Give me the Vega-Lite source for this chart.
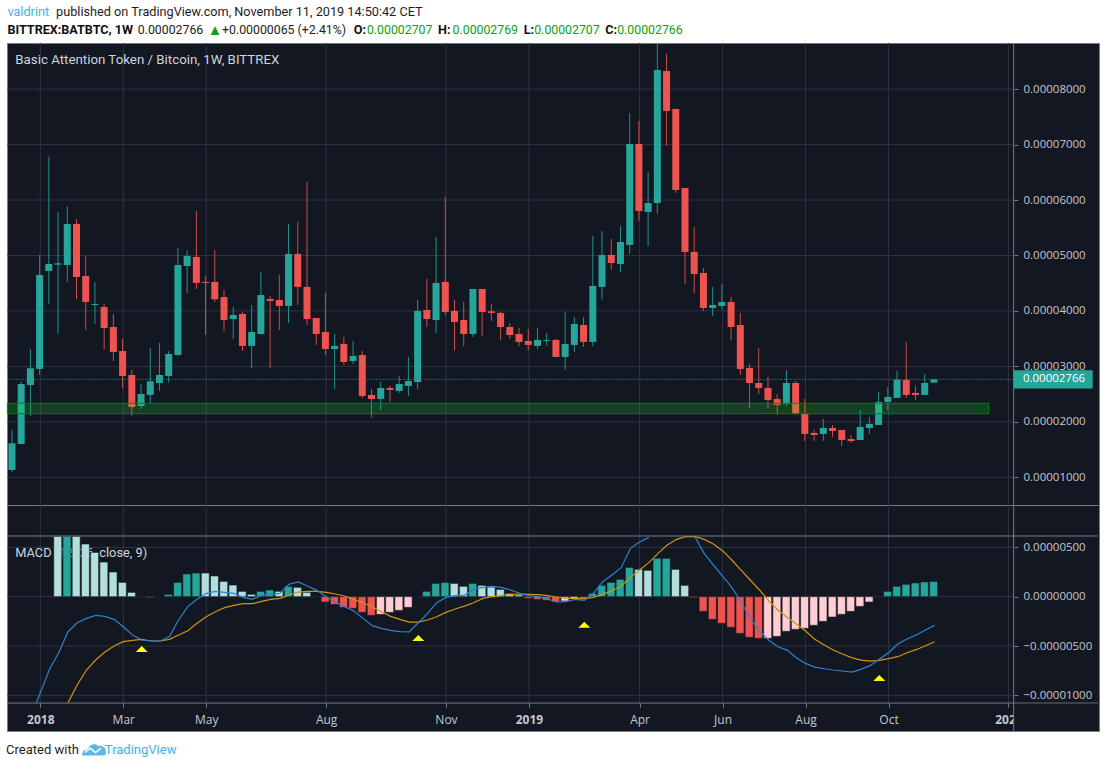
{
  "$schema": "https://vega.github.io/schema/vega-lite/v6.json",
  "background": "#ffffff",
  "padding": {"left": 6, "right": 7, "top": 0, "bottom": 0},
  "autosize": {"type": "pad"},
  "spacing": 0,
  "bounds": "flush",
  "resolve": {"scale": {"color": "independent"}},
  "config": {
    "view": {"fill": "#131722", "stroke": "#787b86"},
    "text": {"font": "Roboto", "align": "left", "baseline": "middle"},
    "axis": {"labelFont": "Open Sans", "labelColor": "#c5c8d0", "tickColor": "#787b86", "grid": false, "domain": false, "title": null, "labelOverlap": false, "labelFlush": false, "labelBound": false, "zindex": 0}
  },
  "datasets": {
    "headerTop": [
      {"d": "2017-12-07", "line": "a", "text": "valdrint", "kind": "link"},
      {"d": "2018-01-13", "line": "a", "text": "published on TradingView.com, November 11, 2019 14:50:42 CET", "kind": "plain"}
    ],
    "header": [
      {"d": "2018-03-16", "line": "b", "text": "0.00002766", "kind": "plain"},
      {"d": "2018-05-19", "line": "b", "text": "+0.00000065 (+2.41%)", "kind": "plain"},
      {"d": "2018-09-06", "line": "b", "text": "0.00002707", "kind": "up"},
      {"d": "2018-11-10", "line": "b", "text": "0.00002769", "kind": "up"},
      {"d": "2019-01-11", "line": "b", "text": "0.00002707", "kind": "up"},
      {"d": "2019-03-15", "line": "b", "text": "0.00002766", "kind": "up"}
    ],
    "headerBold": [
      {"d": "2017-12-07", "line": "b", "text": "BITTREX:BATBTC, 1W"},
      {"d": "2018-08-27", "line": "b", "text": "O:"},
      {"d": "2018-10-30", "line": "b", "text": "H:"},
      {"d": "2019-01-03", "line": "b", "text": "L:"},
      {"d": "2019-03-06", "line": "b", "text": "C:"}
    ],
    "priceGrid": [
      {"d": "2017-12-07", "d2": "2020-01-10", "v": 1e-5},
      {"d": "2017-12-07", "d2": "2020-01-10", "v": 2e-5},
      {"d": "2017-12-07", "d2": "2020-01-10", "v": 3e-5},
      {"d": "2017-12-07", "d2": "2020-01-10", "v": 4e-5},
      {"d": "2017-12-07", "d2": "2020-01-10", "v": 5e-5},
      {"d": "2017-12-07", "d2": "2020-01-10", "v": 6e-5},
      {"d": "2017-12-07", "d2": "2020-01-10", "v": 7e-5},
      {"d": "2017-12-07", "d2": "2020-01-10", "v": 8e-5}
    ],
    "timeGridTop": [
      {"d": "2018-01-01", "v": 8.832e-5, "v2": 0.5005e-5},
      {"d": "2018-03-05", "v": 8.832e-5, "v2": 0.5005e-5},
      {"d": "2018-05-07", "v": 8.832e-5, "v2": 0.5005e-5},
      {"d": "2018-08-06", "v": 8.832e-5, "v2": 0.5005e-5},
      {"d": "2018-11-05", "v": 8.832e-5, "v2": 0.5005e-5},
      {"d": "2019-01-07", "v": 8.832e-5, "v2": 0.5005e-5},
      {"d": "2019-04-01", "v": 8.832e-5, "v2": 0.5005e-5},
      {"d": "2019-06-03", "v": 8.832e-5, "v2": 0.5005e-5},
      {"d": "2019-08-05", "v": 8.832e-5, "v2": 0.5005e-5},
      {"d": "2019-10-07", "v": 8.832e-5, "v2": 0.5005e-5},
      {"d": "2020-01-06", "v": 8.832e-5, "v2": 0.5005e-5}
    ],
    "timeGridBottom": [
      {"d": "2018-01-01", "v": 9.29e-6, "v2": -10.78e-6},
      {"d": "2018-03-05", "v": 9.29e-6, "v2": -10.78e-6},
      {"d": "2018-05-07", "v": 9.29e-6, "v2": -10.78e-6},
      {"d": "2018-08-06", "v": 9.29e-6, "v2": -10.78e-6},
      {"d": "2018-11-05", "v": 9.29e-6, "v2": -10.78e-6},
      {"d": "2019-01-07", "v": 9.29e-6, "v2": -10.78e-6},
      {"d": "2019-04-01", "v": 9.29e-6, "v2": -10.78e-6},
      {"d": "2019-06-03", "v": 9.29e-6, "v2": -10.78e-6},
      {"d": "2019-08-05", "v": 9.29e-6, "v2": -10.78e-6},
      {"d": "2019-10-07", "v": 9.29e-6, "v2": -10.78e-6},
      {"d": "2020-01-06", "v": 9.29e-6, "v2": -10.78e-6}
    ],
    "candles": [
      {"d":"2017-12-11","o":1.132e-5,"h":1.854e-5,"l":1.096e-5,"c":1.613e-5},
      {"d":"2017-12-18","o":1.601e-5,"h":2.725e-5,"l":1.601e-5,"c":2.683e-5},
      {"d":"2017-12-25","o":2.665e-5,"h":3.314e-5,"l":2.106e-5,"c":2.966e-5},
      {"d":"2018-01-01","o":2.954e-5,"h":5.010e-5,"l":2.846e-5,"c":4.649e-5},
      {"d":"2018-01-08","o":4.721e-5,"h":6.783e-5,"l":4.126e-5,"c":4.847e-5},
      {"d":"2018-01-15","o":4.835e-5,"h":5.785e-5,"l":3.585e-5,"c":4.859e-5},
      {"d":"2018-01-22","o":4.829e-5,"h":5.893e-5,"l":4.523e-5,"c":5.569e-5},
      {"d":"2018-01-29","o":5.569e-5,"h":5.659e-5,"l":4.210e-5,"c":4.613e-5},
      {"d":"2018-02-05","o":4.631e-5,"h":4.992e-5,"l":3.657e-5,"c":4.162e-5},
      {"d":"2018-02-12","o":4.108e-5,"h":4.523e-5,"l":3.765e-5,"c":4.126e-5},
      {"d":"2018-02-19","o":4.072e-5,"h":4.126e-5,"l":3.308e-5,"c":3.693e-5},
      {"d":"2018-02-26","o":3.711e-5,"h":3.946e-5,"l":3.098e-5,"c":3.260e-5},
      {"d":"2018-03-05","o":3.278e-5,"h":3.495e-5,"l":2.605e-5,"c":2.828e-5},
      {"d":"2018-03-12","o":2.846e-5,"h":2.936e-5,"l":2.106e-5,"c":2.268e-5},
      {"d":"2018-03-19","o":2.286e-5,"h":2.683e-5,"l":2.232e-5,"c":2.503e-5},
      {"d":"2018-03-26","o":2.485e-5,"h":3.332e-5,"l":2.335e-5,"c":2.731e-5},
      {"d":"2018-04-02","o":2.701e-5,"h":3.423e-5,"l":2.557e-5,"c":2.846e-5},
      {"d":"2018-04-09","o":2.828e-5,"h":3.278e-5,"l":2.707e-5,"c":3.224e-5},
      {"d":"2018-04-16","o":3.206e-5,"h":5.136e-5,"l":3.188e-5,"c":4.829e-5},
      {"d":"2018-04-23","o":4.811e-5,"h":5.100e-5,"l":4.324e-5,"c":4.992e-5},
      {"d":"2018-04-30","o":4.974e-5,"h":5.803e-5,"l":4.396e-5,"c":4.505e-5},
      {"d":"2018-05-07","o":4.523e-5,"h":4.631e-5,"l":3.567e-5,"c":4.505e-5},
      {"d":"2018-05-14","o":4.523e-5,"h":5.100e-5,"l":4.162e-5,"c":4.210e-5},
      {"d":"2018-05-21","o":4.252e-5,"h":4.378e-5,"l":3.639e-5,"c":3.837e-5},
      {"d":"2018-05-28","o":3.855e-5,"h":4.072e-5,"l":3.495e-5,"c":3.928e-5},
      {"d":"2018-06-04","o":3.946e-5,"h":3.982e-5,"l":3.278e-5,"c":3.369e-5},
      {"d":"2018-06-11","o":3.369e-5,"h":4.108e-5,"l":2.966e-5,"c":3.621e-5},
      {"d":"2018-06-18","o":3.585e-5,"h":4.703e-5,"l":3.585e-5,"c":4.288e-5},
      {"d":"2018-06-25","o":4.216e-5,"h":4.270e-5,"l":2.972e-5,"c":4.180e-5},
      {"d":"2018-07-02","o":4.198e-5,"h":4.649e-5,"l":3.657e-5,"c":4.090e-5},
      {"d":"2018-07-09","o":4.090e-5,"h":5.569e-5,"l":3.783e-5,"c":5.028e-5},
      {"d":"2018-07-16","o":5.028e-5,"h":5.605e-5,"l":4.108e-5,"c":4.433e-5},
      {"d":"2018-07-23","o":4.433e-5,"h":6.326e-5,"l":3.747e-5,"c":3.855e-5},
      {"d":"2018-07-30","o":3.873e-5,"h":3.873e-5,"l":3.387e-5,"c":3.585e-5},
      {"d":"2018-08-06","o":3.621e-5,"h":4.324e-5,"l":3.206e-5,"c":3.314e-5},
      {"d":"2018-08-13","o":3.314e-5,"h":3.585e-5,"l":2.593e-5,"c":3.369e-5},
      {"d":"2018-08-20","o":3.405e-5,"h":3.531e-5,"l":3.026e-5,"c":3.080e-5},
      {"d":"2018-08-27","o":3.098e-5,"h":3.459e-5,"l":3.044e-5,"c":3.188e-5},
      {"d":"2018-09-03","o":3.206e-5,"h":3.278e-5,"l":2.425e-5,"c":2.467e-5},
      {"d":"2018-09-10","o":2.485e-5,"h":2.593e-5,"l":2.082e-5,"c":2.413e-5},
      {"d":"2018-09-17","o":2.413e-5,"h":2.719e-5,"l":2.214e-5,"c":2.611e-5},
      {"d":"2018-09-24","o":2.611e-5,"h":2.647e-5,"l":2.359e-5,"c":2.575e-5},
      {"d":"2018-10-01","o":2.557e-5,"h":2.828e-5,"l":2.521e-5,"c":2.683e-5},
      {"d":"2018-10-08","o":2.647e-5,"h":3.170e-5,"l":2.467e-5,"c":2.737e-5},
      {"d":"2018-10-15","o":2.719e-5,"h":4.198e-5,"l":2.593e-5,"c":4.000e-5},
      {"d":"2018-10-22","o":4.018e-5,"h":4.577e-5,"l":3.711e-5,"c":3.855e-5},
      {"d":"2018-10-29","o":3.837e-5,"h":5.334e-5,"l":3.603e-5,"c":4.505e-5},
      {"d":"2018-11-05","o":4.523e-5,"h":6.056e-5,"l":3.928e-5,"c":3.982e-5},
      {"d":"2018-11-12","o":4.000e-5,"h":4.198e-5,"l":3.290e-5,"c":3.801e-5},
      {"d":"2018-11-19","o":3.837e-5,"h":4.162e-5,"l":3.369e-5,"c":3.585e-5},
      {"d":"2018-11-26","o":3.585e-5,"h":4.396e-5,"l":3.531e-5,"c":4.396e-5},
      {"d":"2018-12-03","o":4.396e-5,"h":4.396e-5,"l":3.549e-5,"c":3.982e-5},
      {"d":"2018-12-10","o":3.994e-5,"h":4.126e-5,"l":3.819e-5,"c":3.964e-5},
      {"d":"2018-12-17","o":3.964e-5,"h":3.982e-5,"l":3.471e-5,"c":3.711e-5},
      {"d":"2018-12-24","o":3.711e-5,"h":3.783e-5,"l":3.495e-5,"c":3.567e-5},
      {"d":"2018-12-31","o":3.585e-5,"h":3.693e-5,"l":3.369e-5,"c":3.441e-5},
      {"d":"2019-01-07","o":3.459e-5,"h":3.675e-5,"l":3.296e-5,"c":3.387e-5},
      {"d":"2019-01-14","o":3.369e-5,"h":3.693e-5,"l":3.314e-5,"c":3.477e-5},
      {"d":"2019-01-21","o":3.459e-5,"h":3.603e-5,"l":3.369e-5,"c":3.477e-5},
      {"d":"2019-01-28","o":3.477e-5,"h":3.495e-5,"l":3.170e-5,"c":3.170e-5},
      {"d":"2019-02-04","o":3.170e-5,"h":3.982e-5,"l":2.936e-5,"c":3.405e-5},
      {"d":"2019-02-11","o":3.387e-5,"h":3.892e-5,"l":3.260e-5,"c":3.765e-5},
      {"d":"2019-02-18","o":3.747e-5,"h":3.892e-5,"l":3.351e-5,"c":3.441e-5},
      {"d":"2019-02-25","o":3.441e-5,"h":5.352e-5,"l":3.369e-5,"c":4.451e-5},
      {"d":"2019-03-04","o":4.433e-5,"h":5.442e-5,"l":4.210e-5,"c":5.010e-5},
      {"d":"2019-03-11","o":5.010e-5,"h":5.298e-5,"l":4.739e-5,"c":4.865e-5},
      {"d":"2019-03-18","o":4.847e-5,"h":5.533e-5,"l":4.703e-5,"c":5.244e-5},
      {"d":"2019-03-25","o":5.190e-5,"h":7.570e-5,"l":5.028e-5,"c":7.011e-5},
      {"d":"2019-04-01","o":7.011e-5,"h":7.426e-5,"l":5.623e-5,"c":5.803e-5},
      {"d":"2019-04-08","o":5.785e-5,"h":6.506e-5,"l":5.172e-5,"c":5.947e-5},
      {"d":"2019-04-15","o":5.947e-5,"h":8.83e-5,"l":5.749e-5,"c":8.346e-5},
      {"d":"2019-04-22","o":8.328e-5,"h":8.635e-5,"l":6.975e-5,"c":7.607e-5},
      {"d":"2019-04-29","o":7.643e-5,"h":7.643e-5,"l":6.134e-5,"c":6.182e-5},
      {"d":"2019-05-06","o":6.218e-5,"h":6.218e-5,"l":4.487e-5,"c":5.064e-5},
      {"d":"2019-05-13","o":5.064e-5,"h":5.515e-5,"l":4.324e-5,"c":4.667e-5},
      {"d":"2019-05-20","o":4.685e-5,"h":4.775e-5,"l":4.000e-5,"c":4.054e-5},
      {"d":"2019-05-27","o":4.054e-5,"h":4.433e-5,"l":3.910e-5,"c":4.108e-5},
      {"d":"2019-06-03","o":4.090e-5,"h":4.487e-5,"l":4.036e-5,"c":4.162e-5},
      {"d":"2019-06-10","o":4.162e-5,"h":4.252e-5,"l":3.477e-5,"c":3.711e-5},
      {"d":"2019-06-17","o":3.747e-5,"h":3.964e-5,"l":2.846e-5,"c":2.954e-5},
      {"d":"2019-06-24","o":2.972e-5,"h":3.044e-5,"l":2.250e-5,"c":2.701e-5},
      {"d":"2019-07-01","o":2.701e-5,"h":3.332e-5,"l":2.503e-5,"c":2.611e-5},
      {"d":"2019-07-08","o":2.611e-5,"h":2.809e-5,"l":2.232e-5,"c":2.395e-5},
      {"d":"2019-07-15","o":2.413e-5,"h":2.503e-5,"l":2.124e-5,"c":2.305e-5},
      {"d":"2019-07-22","o":2.323e-5,"h":2.936e-5,"l":2.286e-5,"c":2.701e-5},
      {"d":"2019-07-29","o":2.701e-5,"h":2.737e-5,"l":2.124e-5,"c":2.142e-5},
      {"d":"2019-08-05","o":2.142e-5,"h":2.413e-5,"l":1.655e-5,"c":1.782e-5},
      {"d":"2019-08-12","o":1.800e-5,"h":1.854e-5,"l":1.655e-5,"c":1.763e-5},
      {"d":"2019-08-19","o":1.782e-5,"h":2.052e-5,"l":1.655e-5,"c":1.890e-5},
      {"d":"2019-08-26","o":1.890e-5,"h":1.944e-5,"l":1.727e-5,"c":1.836e-5},
      {"d":"2019-09-02","o":1.854e-5,"h":1.854e-5,"l":1.565e-5,"c":1.673e-5},
      {"d":"2019-09-09","o":1.691e-5,"h":1.763e-5,"l":1.619e-5,"c":1.655e-5},
      {"d":"2019-09-16","o":1.673e-5,"h":2.214e-5,"l":1.673e-5,"c":1.908e-5},
      {"d":"2019-09-23","o":1.890e-5,"h":2.088e-5,"l":1.782e-5,"c":1.962e-5},
      {"d":"2019-09-30","o":1.944e-5,"h":2.539e-5,"l":1.944e-5,"c":2.359e-5},
      {"d":"2019-10-07","o":2.359e-5,"h":2.629e-5,"l":2.214e-5,"c":2.449e-5},
      {"d":"2019-10-14","o":2.431e-5,"h":2.918e-5,"l":2.431e-5,"c":2.761e-5},
      {"d":"2019-10-21","o":2.755e-5,"h":3.441e-5,"l":2.431e-5,"c":2.485e-5},
      {"d":"2019-10-28","o":2.521e-5,"h":2.647e-5,"l":2.395e-5,"c":2.485e-5},
      {"d":"2019-11-04","o":2.485e-5,"h":2.864e-5,"l":2.485e-5,"c":2.701e-5},
      {"d":"2019-11-11","o":2.707e-5,"h":2.769e-5,"l":2.707e-5,"c":2.766e-5}
    ],
    "hist": [
      {"d":"2018-01-15","v":6.1e-6,"t":"falling"},{"d":"2018-01-22","v":6.1e-6,"t":"rising"},{"d":"2018-01-29","v":6.1e-6,"t":"falling"},
      {"d":"2018-02-05","v":5.34e-6,"t":"falling"},{"d":"2018-02-12","v":4.49e-6,"t":"falling"},{"d":"2018-02-19","v":3.51e-6,"t":"falling"},
      {"d":"2018-02-26","v":2.5e-6,"t":"falling"},{"d":"2018-03-05","v":1.45e-6,"t":"falling"},{"d":"2018-03-12","v":0.44e-6,"t":"falling"},
      {"d":"2018-03-19","v":0.02e-6,"t":"falling"},{"d":"2018-03-26","v":-0.1e-6,"t":"neg falling"},{"d":"2018-04-02","v":0.01e-6,"t":"rising"},
      {"d":"2018-04-09","v":0.24e-6,"t":"rising"},{"d":"2018-04-16","v":1.45e-6,"t":"rising"},{"d":"2018-04-23","v":2.3e-6,"t":"rising"},
      {"d":"2018-04-30","v":2.4e-6,"t":"rising"},{"d":"2018-05-07","v":2.4e-6,"t":"falling"},{"d":"2018-05-14","v":2.1e-6,"t":"falling"},
      {"d":"2018-05-21","v":1.55e-6,"t":"falling"},{"d":"2018-05-28","v":1.18e-6,"t":"falling"},{"d":"2018-06-04","v":0.54e-6,"t":"falling"},
      {"d":"2018-06-11","v":0.24e-6,"t":"falling"},{"d":"2018-06-18","v":0.54e-6,"t":"rising"},{"d":"2018-06-25","v":0.68e-6,"t":"rising"},
      {"d":"2018-07-02","v":0.54e-6,"t":"falling"},{"d":"2018-07-09","v":1.05e-6,"t":"rising"},{"d":"2018-07-16","v":0.95e-6,"t":"falling"},
      {"d":"2018-07-23","v":0.44e-6,"t":"falling"},{"d":"2018-07-30","v":0.01e-6,"t":"falling"},{"d":"2018-08-06","v":-0.54e-6,"t":"neg falling"},
      {"d":"2018-08-13","v":-0.78e-6,"t":"neg falling"},{"d":"2018-08-20","v":-1.08e-6,"t":"neg falling"},{"d":"2018-08-27","v":-1.18e-6,"t":"neg falling"},
      {"d":"2018-09-03","v":-1.59e-6,"t":"neg falling"},{"d":"2018-09-10","v":-1.89e-6,"t":"neg falling"},{"d":"2018-09-17","v":-1.79e-6,"t":"neg rising"},
      {"d":"2018-09-24","v":-1.59e-6,"t":"neg rising"},{"d":"2018-10-01","v":-1.39e-6,"t":"neg rising"},{"d":"2018-10-08","v":-1.08e-6,"t":"neg rising"},
      {"d":"2018-10-15","v":0.01e-6,"t":"rising"},{"d":"2018-10-22","v":0.54e-6,"t":"rising"},{"d":"2018-10-29","v":1.35e-6,"t":"rising"},
      {"d":"2018-11-05","v":1.45e-6,"t":"rising"},{"d":"2018-11-12","v":1.35e-6,"t":"falling"},{"d":"2018-11-19","v":1.05e-6,"t":"falling"},
      {"d":"2018-11-26","v":1.35e-6,"t":"rising"},{"d":"2018-12-03","v":1.15e-6,"t":"falling"},{"d":"2018-12-10","v":0.98e-6,"t":"falling"},
      {"d":"2018-12-17","v":0.74e-6,"t":"falling"},{"d":"2018-12-24","v":0.34e-6,"t":"falling"},{"d":"2018-12-31","v":0.17e-6,"t":"falling"},
      {"d":"2019-01-07","v":-0.17e-6,"t":"neg falling"},{"d":"2019-01-14","v":-0.27e-6,"t":"neg falling"},{"d":"2019-01-21","v":-0.37e-6,"t":"neg falling"},
      {"d":"2019-01-28","v":-0.54e-6,"t":"neg falling"},{"d":"2019-02-04","v":-0.44e-6,"t":"neg rising"},{"d":"2019-02-11","v":-0.24e-6,"t":"neg rising"},
      {"d":"2019-02-18","v":-0.24e-6,"t":"neg falling"},{"d":"2019-02-25","v":0.34e-6,"t":"rising"},{"d":"2019-03-04","v":1.15e-6,"t":"rising"},
      {"d":"2019-03-11","v":1.45e-6,"t":"rising"},{"d":"2019-03-18","v":1.76e-6,"t":"rising"},{"d":"2019-03-25","v":2.97e-6,"t":"rising"},
      {"d":"2019-04-01","v":2.77e-6,"t":"falling"},{"d":"2019-04-08","v":2.67e-6,"t":"falling"},{"d":"2019-04-15","v":3.89e-6,"t":"rising"},
      {"d":"2019-04-22","v":3.89e-6,"t":"rising"},{"d":"2019-04-29","v":2.77e-6,"t":"falling"},{"d":"2019-05-06","v":1.15e-6,"t":"falling"},
      {"d":"2019-05-13","v":-0.1e-6,"t":"neg falling"},{"d":"2019-05-20","v":-1.49e-6,"t":"neg falling"},{"d":"2019-05-27","v":-2.3e-6,"t":"neg falling"},
      {"d":"2019-06-03","v":-2.7e-6,"t":"neg falling"},{"d":"2019-06-10","v":-3.11e-6,"t":"neg falling"},{"d":"2019-06-17","v":-3.72e-6,"t":"neg falling"},
      {"d":"2019-06-24","v":-4.12e-6,"t":"neg falling"},{"d":"2019-07-01","v":-4.22e-6,"t":"neg falling"},{"d":"2019-07-08","v":-4.22e-6,"t":"neg rising"},
      {"d":"2019-07-15","v":-4.02e-6,"t":"neg rising"},{"d":"2019-07-22","v":-3.51e-6,"t":"neg rising"},{"d":"2019-07-29","v":-3.31e-6,"t":"neg rising"},
      {"d":"2019-08-05","v":-3.21e-6,"t":"neg rising"},{"d":"2019-08-12","v":-2.9e-6,"t":"neg rising"},{"d":"2019-08-19","v":-2.5e-6,"t":"neg rising"},
      {"d":"2019-08-26","v":-2.06e-6,"t":"neg rising"},{"d":"2019-09-02","v":-1.79e-6,"t":"neg rising"},{"d":"2019-09-09","v":-1.49e-6,"t":"neg rising"},
      {"d":"2019-09-16","v":-0.98e-6,"t":"neg rising"},{"d":"2019-09-23","v":-0.54e-6,"t":"neg rising"},{"d":"2019-09-30","v":0.03e-6,"t":"rising"},
      {"d":"2019-10-07","v":0.54e-6,"t":"rising"},{"d":"2019-10-14","v":1.05e-6,"t":"rising"},{"d":"2019-10-21","v":1.25e-6,"t":"rising"},
      {"d":"2019-10-28","v":1.39e-6,"t":"rising"},{"d":"2019-11-04","v":1.49e-6,"t":"rising"},{"d":"2019-11-11","v":1.55e-6,"t":"rising"}
    ],
    "macd": [
      {"d":"2017-12-29","v":-10.74e-6},{"d":"2018-01-01","v":-9.73e-6},{"d":"2018-01-08","v":-7.36e-6},{"d":"2018-01-15","v":-5.68e-6},{"d":"2018-01-22","v":-3.55e-6},
      {"d":"2018-01-29","v":-2.64e-6},{"d":"2018-02-05","v":-2.2e-6},{"d":"2018-02-12","v":-1.89e-6},{"d":"2018-02-19","v":-1.99e-6},{"d":"2018-02-26","v":-2.3e-6},
      {"d":"2018-03-05","v":-3.04e-6},{"d":"2018-03-12","v":-3.89e-6},{"d":"2018-03-19","v":-4.39e-6},{"d":"2018-03-26","v":-4.49e-6},{"d":"2018-04-02","v":-4.49e-6},
      {"d":"2018-04-09","v":-4.05e-6},{"d":"2018-04-16","v":-2.36e-6},{"d":"2018-04-23","v":-1.01e-6},{"d":"2018-04-30","v":-0.27e-6},{"d":"2018-05-07","v":0.34e-6},
      {"d":"2018-05-14","v":0.54e-6},{"d":"2018-05-21","v":0.44e-6},{"d":"2018-05-28","v":0.34e-6},{"d":"2018-06-04","v":-0.07e-6},{"d":"2018-06-11","v":-0.27e-6},
      {"d":"2018-06-18","v":0.14e-6},{"d":"2018-06-25","v":0.24e-6},{"d":"2018-07-02","v":0.34e-6},{"d":"2018-07-09","v":1.28e-6},{"d":"2018-07-16","v":1.49e-6},
      {"d":"2018-07-23","v":1.05e-6},{"d":"2018-07-30","v":0.64e-6},{"d":"2018-08-06","v":0},{"d":"2018-08-13","v":-0.57e-6},{"d":"2018-08-20","v":-1.01e-6},
      {"d":"2018-08-27","v":-1.45e-6},{"d":"2018-09-03","v":-2.2e-6},{"d":"2018-09-10","v":-2.94e-6},{"d":"2018-09-17","v":-3.21e-6},{"d":"2018-09-24","v":-3.41e-6},
      {"d":"2018-10-01","v":-3.55e-6},{"d":"2018-10-08","v":-3.58e-6},{"d":"2018-10-15","v":-2.64e-6},{"d":"2018-10-22","v":-1.69e-6},{"d":"2018-10-29","v":-0.61e-6},
      {"d":"2018-11-05","v":-0.07e-6},{"d":"2018-11-12","v":0.1e-6},{"d":"2018-11-19","v":0.14e-6},{"d":"2018-11-26","v":0.74e-6},{"d":"2018-12-03","v":0.95e-6},
      {"d":"2018-12-10","v":1.05e-6},{"d":"2018-12-17","v":0.95e-6},{"d":"2018-12-24","v":0.68e-6},{"d":"2018-12-31","v":0.34e-6},{"d":"2019-01-07","v":0.1e-6},
      {"d":"2019-01-14","v":0},{"d":"2019-01-21","v":-0.24e-6},{"d":"2019-01-28","v":-0.54e-6},{"d":"2019-02-04","v":-0.51e-6},{"d":"2019-02-11","v":-0.27e-6},
      {"d":"2019-02-18","v":-0.37e-6},{"d":"2019-02-25","v":0.34e-6},{"d":"2019-03-04","v":1.52e-6},{"d":"2019-03-11","v":2.2e-6},{"d":"2019-03-18","v":2.94e-6},
      {"d":"2019-03-25","v":4.9e-6},{"d":"2019-04-01","v":5.54e-6},{"d":"2019-04-08","v":6.01e-6},{"d":"2019-04-15","v":null},
      {"d":"2019-05-13","v":6.08e-6},{"d":"2019-05-20","v":4.39e-6},{"d":"2019-05-27","v":3.21e-6},{"d":"2019-06-03","v":2.09e-6},{"d":"2019-06-10","v":0.95e-6},
      {"d":"2019-06-17","v":-0.51e-6},{"d":"2019-06-24","v":-2.2e-6},{"d":"2019-07-01","v":-3.48e-6},{"d":"2019-07-08","v":-4.39e-6},{"d":"2019-07-15","v":-5.07e-6},
      {"d":"2019-07-22","v":-5.41e-6},{"d":"2019-07-29","v":-6.18e-6},{"d":"2019-08-05","v":-6.76e-6},{"d":"2019-08-12","v":-7.13e-6},{"d":"2019-08-19","v":-7.3e-6},
      {"d":"2019-08-26","v":-7.43e-6},{"d":"2019-09-02","v":-7.53e-6},{"d":"2019-09-09","v":-7.64e-6},{"d":"2019-09-16","v":-7.36e-6},{"d":"2019-09-23","v":-6.99e-6},
      {"d":"2019-09-30","v":-6.35e-6},{"d":"2019-10-07","v":-5.68e-6},{"d":"2019-10-14","v":-4.8e-6},{"d":"2019-10-21","v":-4.29e-6},{"d":"2019-10-28","v":-3.89e-6},
      {"d":"2019-11-04","v":-3.38e-6},{"d":"2019-11-11","v":-2.91e-6}
    ],
    "signal": [
      {"d":"2018-01-22","v":-10.74e-6},{"d":"2018-01-29","v":-8.95e-6},{"d":"2018-02-05","v":-7.43e-6},{"d":"2018-02-12","v":-6.42e-6},{"d":"2018-02-19","v":-5.61e-6},
      {"d":"2018-02-26","v":-5.0e-6},{"d":"2018-03-05","v":-4.56e-6},{"d":"2018-03-12","v":-4.43e-6},{"d":"2018-03-19","v":-4.32e-6},{"d":"2018-03-26","v":-4.49e-6},
      {"d":"2018-04-02","v":-4.49e-6},{"d":"2018-04-09","v":-4.32e-6},{"d":"2018-04-16","v":-3.89e-6},{"d":"2018-04-23","v":-3.45e-6},{"d":"2018-04-30","v":-2.7e-6},
      {"d":"2018-05-07","v":-2.03e-6},{"d":"2018-05-14","v":-1.52e-6},{"d":"2018-05-21","v":-1.11e-6},{"d":"2018-05-28","v":-0.88e-6},{"d":"2018-06-04","v":-0.71e-6},
      {"d":"2018-06-11","v":-0.71e-6},{"d":"2018-06-18","v":-0.47e-6},{"d":"2018-06-25","v":-0.27e-6},{"d":"2018-07-02","v":-0.17e-6},{"d":"2018-07-09","v":0.17e-6},
      {"d":"2018-07-16","v":0.47e-6},{"d":"2018-07-23","v":0.54e-6},{"d":"2018-07-30","v":0.54e-6},{"d":"2018-08-06","v":0.44e-6},{"d":"2018-08-13","v":0.27e-6},
      {"d":"2018-08-20","v":0.07e-6},{"d":"2018-08-27","v":-0.27e-6},{"d":"2018-09-03","v":-0.61e-6},{"d":"2018-09-10","v":-1.05e-6},{"d":"2018-09-17","v":-1.52e-6},
      {"d":"2018-09-24","v":-1.99e-6},{"d":"2018-10-01","v":-2.3e-6},{"d":"2018-10-08","v":-2.57e-6},{"d":"2018-10-15","v":-2.57e-6},{"d":"2018-10-22","v":-2.36e-6},
      {"d":"2018-10-29","v":-2.03e-6},{"d":"2018-11-05","v":-1.59e-6},{"d":"2018-11-12","v":-1.25e-6},{"d":"2018-11-19","v":-0.95e-6},{"d":"2018-11-26","v":-0.61e-6},
      {"d":"2018-12-03","v":-0.17e-6},{"d":"2018-12-10","v":0},{"d":"2018-12-17","v":0.1e-6},{"d":"2018-12-24","v":0.2e-6},{"d":"2018-12-31","v":0.27e-6},
      {"d":"2019-01-07","v":0.24e-6},{"d":"2019-01-14","v":0.2e-6},{"d":"2019-01-21","v":0.1e-6},{"d":"2019-01-28","v":-0.03e-6},{"d":"2019-02-04","v":-0.14e-6},
      {"d":"2019-02-11","v":-0.2e-6},{"d":"2019-02-18","v":-0.2e-6},{"d":"2019-02-25","v":-0.07e-6},{"d":"2019-03-04","v":0.24e-6},{"d":"2019-03-11","v":0.61e-6},
      {"d":"2019-03-18","v":1.08e-6},{"d":"2019-03-25","v":1.96e-6},{"d":"2019-04-01","v":2.7e-6},{"d":"2019-04-08","v":3.45e-6},{"d":"2019-04-15","v":4.39e-6},
      {"d":"2019-04-22","v":5.24e-6},{"d":"2019-04-29","v":5.81e-6},{"d":"2019-05-06","v":6.08e-6},{"d":"2019-05-13","v":6.1e-6},{"d":"2019-05-20","v":5.81e-6},
      {"d":"2019-05-27","v":5.34e-6},{"d":"2019-06-03","v":4.66e-6},{"d":"2019-06-10","v":3.72e-6},{"d":"2019-06-17","v":2.7e-6},{"d":"2019-06-24","v":1.69e-6},
      {"d":"2019-07-01","v":0.68e-6},{"d":"2019-07-08","v":-0.41e-6},{"d":"2019-07-15","v":-1.35e-6},{"d":"2019-07-22","v":-2.09e-6},{"d":"2019-07-29","v":-2.77e-6},
      {"d":"2019-08-05","v":-3.48e-6},{"d":"2019-08-12","v":-4.32e-6},{"d":"2019-08-19","v":-4.86e-6},{"d":"2019-08-26","v":-5.41e-6},{"d":"2019-09-02","v":-5.81e-6},
      {"d":"2019-09-09","v":-6.18e-6},{"d":"2019-09-16","v":-6.42e-6},{"d":"2019-09-23","v":-6.52e-6},{"d":"2019-09-30","v":-6.45e-6},{"d":"2019-10-07","v":-6.28e-6},
      {"d":"2019-10-14","v":-6.08e-6},{"d":"2019-10-21","v":-5.68e-6},{"d":"2019-10-28","v":-5.37e-6},{"d":"2019-11-04","v":-4.97e-6},{"d":"2019-11-11","v":-4.56e-6}
    ]
  },
  "vconcat": [
    {
      "width": 1092,
      "height": 43,
      "view": {"fill": null, "stroke": null},
      "encoding": {
        "x": {"field": "d", "type": "temporal", "axis": null, "scale": {"type": "utc", "padding": 0, "domain": ["2017-12-06T17:00:00Z", "2020-03-14T19:00:00Z"]}},
        "y": {"field": "line", "type": "nominal", "axis": null, "scale": {"type": "point", "padding": 0.76, "align": 0.48}},
        "text": {"field": "text"},
        "color": {"field": "kind", "type": "nominal", "legend": null, "scale": {"domain": ["link", "plain", "up"], "range": ["#3bb3e4", "#1d1d1d", "#10a010"]}}
      },
      "layer": [
        {
          "data": {"name": "headerTop"},
          "mark": {"type": "text", "fontSize": 12.7}
        },
        {
          "data": {"name": "header"},
          "mark": {"type": "text", "fontSize": 12.3}
        },
        {
          "data": {"name": "headerBold"},
          "mark": {"type": "text", "fontSize": 12.6, "fontWeight": "bold"},
          "encoding": {"color": {"value": "#111111"}}
        },
        {
          "data": {"values": [{"d": "2018-05-08", "line": "b", "text": "▲"}]},
          "mark": {"type": "text", "fontSize": 15},
          "encoding": {"color": {"value": "#10a010"}}
        }
      ]
    },
    {
      "width": 1092,
      "height": 462,
      "encoding": {
        "x": {"field": "d", "type": "temporal", "axis": null, "scale": {"type": "utc", "padding": 0, "domain": ["2017-12-06T17:00:00Z", "2020-03-14T19:00:00Z"]}},
        "y": {
          "field": "v",
          "type": "quantitative",
          "scale": {"domain": [0.5005e-5, 8.832e-5], "nice": false, "zero": false, "padding": 0},
          "axis": {"orient": "right", "offset": -85, "values": [1e-5, 2e-5, 3e-5, 4e-5, 5e-5, 6e-5, 7e-5, 8e-5], "format": ".8f", "tickSize": 4, "labelPadding": 5, "labelFontSize": 11.5}
        }
      },
      "layer": [
        {
          "data": {"name": "priceGrid"},
          "mark": {"type": "rule", "color": "#2f3340", "strokeWidth": 1},
          "encoding": {"x2": {"field": "d2"}}
        },
        {
          "data": {"name": "timeGridTop"},
          "mark": {"type": "rule", "color": "#2f3340", "strokeWidth": 1},
          "encoding": {"y2": {"field": "v2"}}
        },
        {
          "data": {"values": [{"d": "2017-12-13", "v": 8.526e-5, "text": "Basic Attention Token / Bitcoin, 1W, BITTREX"}]},
          "mark": {"type": "text", "fontSize": 13.3, "color": "#d1d4dc"},
          "encoding": {"text": {"field": "text"}}
        },
        {
          "data": {"name": "candles"},
          "mark": {"type": "rule", "strokeWidth": 1, "xOffset": -0.7, "opacity": 0.85},
          "encoding": {
            "y": {"field": "l", "type": "quantitative", "scale": {"domain": [0.5005e-5, 8.832e-5], "nice": false, "zero": false, "padding": 0}},
            "y2": {"field": "h"},
            "color": {"condition": {"test": "datum.c >= datum.o", "value": "#26a69a"}, "value": "#ef5350"}
          }
        },
        {
          "data": {"name": "candles"},
          "mark": {"type": "bar", "size": 7, "xOffset": -0.7},
          "encoding": {
            "y": {"field": "o", "type": "quantitative", "scale": {"domain": [0.5005e-5, 8.832e-5], "nice": false, "zero": false, "padding": 0}},
            "y2": {"field": "c"},
            "color": {"condition": {"test": "datum.c >= datum.o", "value": "#26a69a"}, "value": "#ef5350"}
          }
        },
        {
          "data": {"values": [{"d": "2017-12-07", "d2": "2019-12-22", "v": 2.335e-5, "v2": 2.147e-5}]},
          "mark": {"type": "rect", "fill": "#1bee1e", "fillOpacity": 0.2, "stroke": "#0c7d10", "strokeWidth": 1},
          "encoding": {"x2": {"field": "d2"}, "y2": {"field": "v2"}}
        },
        {
          "data": {"values": [{"d": "2017-12-07", "d2": "2020-01-10", "v": 2.766e-5}]},
          "mark": {"type": "rule", "color": "#26a69a", "strokeWidth": 1, "strokeDash": [1, 2]},
          "encoding": {"x2": {"field": "d2"}}
        },
        {
          "data": {"values": [{"d": "2020-01-10", "v": 8.832e-5, "v2": 0.5005e-5}]},
          "mark": {"type": "rule", "color": "#787b86", "strokeWidth": 1},
          "encoding": {"y2": {"field": "v2"}}
        },
        {
          "data": {"values": [{"d": "2020-01-10", "d2": "2020-03-10", "v": 2.93e-5, "v2": 2.6e-5}]},
          "mark": {"type": "rect", "fill": "#26a69a"},
          "encoding": {"x2": {"field": "d2"}, "y2": {"field": "v2"}}
        },
        {
          "data": {"values": [{"d": "2020-01-17", "v": 2.766e-5, "text": "0.00002766"}]},
          "mark": {"type": "text", "font": "Open Sans", "fontSize": 11.5, "color": "#ffffff"},
          "encoding": {"text": {"field": "text"}}
        }
      ]
    },
    {
      "width": 1092,
      "height": 226,
      "encoding": {
        "x": {
          "field": "d",
          "type": "temporal",
          "scale": {"type": "utc", "padding": 0, "domain": ["2017-12-06T17:00:00Z", "2020-03-14T19:00:00Z"]},
          "axis": {
            "orient": "bottom",
            "offset": -28,
            "values": ["2018-01-01", "2018-03-05", "2018-05-07", "2018-08-06", "2018-11-05", "2019-01-07", "2019-04-01", "2019-06-03", "2019-08-05", "2019-10-07", "2020-01-06"],
            "labelExpr": "utcmonth(datum.value) == 0 ? utcFormat(datum.value, '%Y') : utcFormat(datum.value, '%b')",
            "labelFontWeight": {"condition": {"test": "utcmonth(datum.value) == 0", "value": "bold"}, "value": "normal"},
            "labelFontSize": 12,
            "tickSize": 4,
            "labelPadding": 7
          }
        },
        "y": {
          "field": "v",
          "type": "quantitative",
          "scale": {"domain": [-13.61e-6, 9.29e-6], "nice": false, "zero": false, "padding": 0},
          "axis": {"orient": "right", "offset": -85, "values": [5e-6, 0, -5e-6, -1e-5], "format": ".8f", "tickSize": 4, "labelPadding": 5, "labelFontSize": 11.5}
        }
      },
      "layer": [
        {
          "data": {"values": [
            {"d": "2017-12-07", "d2": "2020-01-10", "v": 5e-6},
            {"d": "2017-12-07", "d2": "2020-01-10", "v": 0},
            {"d": "2017-12-07", "d2": "2020-01-10", "v": -5e-6},
            {"d": "2017-12-07", "d2": "2020-01-10", "v": -1e-5}
          ]},
          "mark": {"type": "rule", "color": "#2f3340", "strokeWidth": 1},
          "encoding": {"x2": {"field": "d2"}}
        },
        {
          "data": {"name": "timeGridBottom"},
          "mark": {"type": "rule", "color": "#2f3340", "strokeWidth": 1},
          "encoding": {"y2": {"field": "v2"}}
        },
        {
          "data": {"values": [{"d": "2017-12-13", "v": 4.43e-6, "text": "MACD (12, 26, close, 9)"}]},
          "mark": {"type": "text", "fontSize": 12.8, "color": "#d1d4dc"},
          "encoding": {"text": {"field": "text"}}
        },
        {
          "data": {"name": "hist"},
          "mark": {"type": "bar", "size": 8, "xOffset": -1, "stroke": "#131722", "strokeWidth": 0.6},
          "encoding": {
            "y": {"field": "v", "type": "quantitative", "stack": null, "scale": {"domain": [-13.61e-6, 9.29e-6], "nice": false, "zero": false, "padding": 0}},
            "color": {"field": "t", "type": "nominal", "legend": null, "scale": {"domain": ["rising", "falling", "neg falling", "neg rising"], "range": ["#26a69a", "#b2dfdb", "#ef5350", "#ffcdd2"]}}
          }
        },
        {
          "data": {"name": "signal"},
          "mark": {"type": "line", "color": "#d1940f", "strokeWidth": 1.2, "interpolate": "linear"}
        },
        {
          "data": {"name": "macd"},
          "mark": {"type": "line", "color": "#2a84d2", "strokeWidth": 1.2, "interpolate": "linear"}
        },
        {
          "data": {"values": [
            {"d": "2018-03-19", "v": -5.3e-6},
            {"d": "2018-10-15", "v": -4.19e-6},
            {"d": "2019-02-18", "v": -2.84e-6},
            {"d": "2019-09-30", "v": -8.24e-6}
          ]},
          "mark": {"type": "point", "shape": "M-1,0.5L1,0.5L0,-0.5Z", "size": 144, "filled": true, "color": "#ffff00", "opacity": 1}
        },
        {
          "data": {"values": [
            {"d": "2017-12-07", "d2": "2020-03-14", "v": 6.15e-6},
            {"d": "2017-12-07", "d2": "2020-03-14", "v": -10.78e-6}
          ]},
          "mark": {"type": "rule", "color": "#787b86", "strokeWidth": 1},
          "encoding": {"x2": {"field": "d2"}}
        },
        {
          "data": {"values": [{"d": "2020-01-10", "d2": "2020-03-14", "v": -10.85e-6, "v2": -13.5e-6}]},
          "mark": {"type": "rect", "fill": "#131722"},
          "encoding": {"x2": {"field": "d2"}, "y2": {"field": "v2"}}
        },
        {
          "data": {"values": [{"d": "2020-01-10", "v": 9.29e-6, "v2": -13.61e-6}]},
          "mark": {"type": "rule", "color": "#787b86", "strokeWidth": 1},
          "encoding": {"y2": {"field": "v2"}}
        }
      ]
    },
    {
      "width": 1092,
      "height": 37,
      "view": {"fill": null, "stroke": null},
      "encoding": {
        "x": {"field": "d", "type": "temporal", "axis": null, "scale": {"type": "utc", "padding": 0, "domain": ["2017-12-06T17:00:00Z", "2020-03-14T19:00:00Z"]}}
      },
      "layer": [
        {
          "data": {"values": [{"d": "2017-12-06", "text": "Created with"}]},
          "mark": {"type": "text", "fontSize": 13, "color": "#1d1d1d"},
          "encoding": {"text": {"field": "text"}}
        },
        {
          "data": {"values": [{"d": "2018-02-19", "text": "TradingView"}]},
          "mark": {"type": "text", "fontSize": 13, "color": "#3bb3e4"},
          "encoding": {"text": {"field": "text"}}
        },
        {
          "data": {"values": [{"d": "2018-02-11"}]},
          "mark": {"type": "point", "shape": "M-1,0.5C-1.05,0.15 -0.8,0 -0.55,0C-0.45,-0.4 0,-0.6 0.35,-0.3C0.7,-0.35 1,-0.1 0.95,0.15C1.05,0.35 0.9,0.5 0.7,0.5Z", "size": 576, "filled": true, "color": "#5db7e8", "opacity": 1}
        },
        {
          "data": {"values": [{"d": "2018-02-11"}]},
          "mark": {"type": "point", "shape": "M-0.8,0.25L-0.35,-0.1L0.1,0.25L0.55,-0.1", "size": 576, "filled": false, "stroke": "#ffffff", "strokeWidth": 1.5, "opacity": 1}
        }
      ]
    }
  ]
}
